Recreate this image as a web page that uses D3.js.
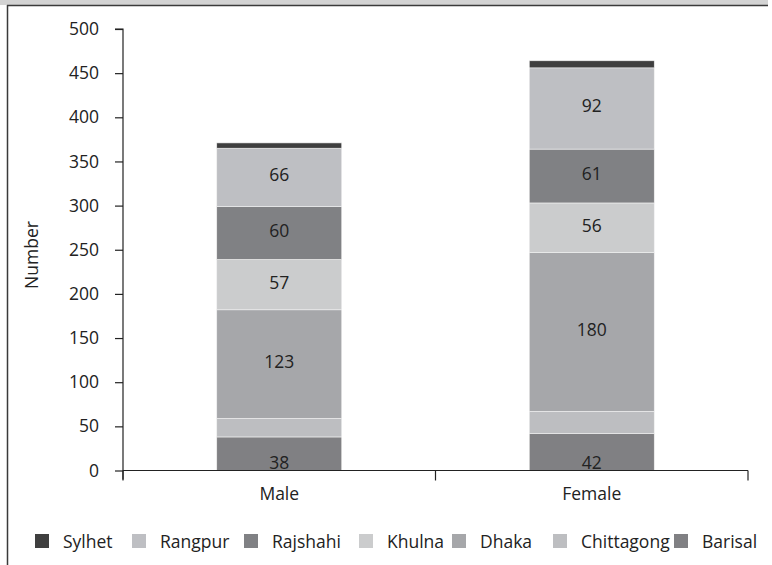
<!DOCTYPE html>
<html>
<head>
<meta charset="utf-8">
<script src="https://cdn.jsdelivr.net/npm/d3@7"></script>
<style>
  html, body { margin: 0; padding: 0; background: #fff; }
  svg { display: block; font-family: "Open Sans", Lato, sans-serif; }
</style>
</head>
<body>
<svg id="chart" width="772" height="565"></svg>
<script>
// Respondents by division and sex
const categories = ["Male", "Female"];
const divisions = ["Barisal", "Chittagong", "Dhaka", "Khulna", "Rajshahi", "Rangpur", "Sylhet"];
const maleValues = [38, 21, 123, 57, 60, 66, 6];
const femaleValues = [42, 25, 180, 56, 61, 92, 8];
const labelledDivisions = ["Barisal", "Dhaka", "Khulna", "Rajshahi", "Rangpur"];
const yTicks = [0, 50, 100, 150, 200, 250, 300, 350, 400, 450, 500];
const legendOrder = ["Sylhet", "Rangpur", "Rajshahi", "Khulna", "Dhaka", "Chittagong", "Barisal"];

const colors = {
  Barisal: "#808083",
  Chittagong: "#bdbec1",
  Dhaka: "#a6a7aa",
  Khulna: "#cbcccd",
  Rajshahi: "#808184",
  Rangpur: "#bebfc3",
  Sylhet: "#3f3f3f"
};

const FONT = 17.5;
const svg = d3.select("#chart");

// frame: grey band on top with a dark rule, and a left edge line
svg.append("rect").attr("x", 0).attr("y", 0).attr("width", 768).attr("height", 5).attr("fill", "#d3d3d3");
svg.append("line").attr("x1", 7).attr("x2", 768).attr("y1", 5.5).attr("y2", 5.5).attr("stroke", "#3a3a3a").attr("stroke-width", 1.5);
svg.append("line").attr("x1", 7.5).attr("x2", 7.5).attr("y1", 5).attr("y2", 565).attr("stroke", "#3a3a3a").attr("stroke-width", 1.5);

const plot = { left: 123, right: 748, top: 29, bottom: 470.5 };

const x = d3.scaleBand().domain(categories).range([plot.left, plot.right]).paddingInner(0).paddingOuter(0);
const y = d3.scaleLinear().domain([0, 500]).range([plot.bottom, plot.top]);

const rows = categories.map((c, i) => {
  const vals = i === 0 ? maleValues : femaleValues;
  const row = { category: c };
  divisions.forEach((d, j) => row[d] = vals[j]);
  return row;
});

const series = d3.stack().keys(divisions)(rows);

const barWidth = x.bandwidth() * 0.4;
const barX = c => x(c) + (x.bandwidth() - barWidth) / 2;

const g = svg.append("g");
series.forEach(s => {
  g.selectAll(null)
    .data(s)
    .enter()
    .append("rect")
    .attr("x", d => barX(d.data.category))
    .attr("y", d => y(d[1]))
    .attr("width", barWidth)
    .attr("height", d => y(d[0]) - y(d[1]))
    .attr("fill", colors[s.key])
    .attr("stroke", "#f2f2f2")
    .attr("stroke-width", 0.6);
});

// value labels inside segments
series.filter(s => labelledDivisions.includes(s.key)).forEach(s => {
  g.selectAll(null)
    .data(s)
    .enter()
    .append("text")
    .attr("x", d => barX(d.data.category) + barWidth / 2)
    .attr("y", d => {
      const mid = (y(d[0]) + y(d[1])) / 2;
      return s.key === "Barisal" ? y(d[0]) - 9 : mid - 3;
    })
    .attr("text-anchor", "middle")
    .attr("dominant-baseline", "central")
    .attr("font-size", FONT)
    .attr("fill", "#222")
    .text(d => d.data[s.key]);
});

// y axis
const yAxis = d3.axisLeft(y).tickValues(yTicks).tickSize(8).tickPadding(16);
const yg = svg.append("g").attr("transform", `translate(${plot.left},0)`).call(yAxis);
yg.select(".domain").attr("stroke", "#222").attr("stroke-width", 1.2).attr("d", `M-8,${plot.top}H0V${plot.bottom + 9}`);
yg.selectAll(".tick line").attr("stroke", "#222").attr("stroke-width", 1.2);
yg.selectAll(".tick text").attr("font-size", FONT).attr("fill", "#222").attr("font-family", "'Open Sans', Lato, sans-serif");

// x axis with boundary ticks between categories
const boundaries = [plot.left, x("Female"), plot.right];
svg.append("line").attr("x1", plot.left).attr("x2", plot.right).attr("y1", plot.bottom).attr("y2", plot.bottom)
  .attr("stroke", "#222").attr("stroke-width", 1.2);
svg.selectAll(null).data(boundaries).enter().append("line")
  .attr("x1", d => d).attr("x2", d => d)
  .attr("y1", plot.bottom).attr("y2", plot.bottom + 10)
  .attr("stroke", "#222").attr("stroke-width", 1.2);
svg.selectAll(null).data(categories).enter().append("text")
  .attr("x", d => x(d) + x.bandwidth() / 2)
  .attr("y", 500)
  .attr("text-anchor", "middle")
  .attr("font-size", FONT)
  .attr("fill", "#222")
  .text(d => d);

// y axis title
svg.append("text")
  .attr("transform", "translate(38,255) rotate(-90)")
  .attr("text-anchor", "middle")
  .attr("font-size", FONT)
  .attr("fill", "#222")
  .text("Number");

// legend
const legendX = [35, 132, 244, 359, 452, 553, 674];
const legend = svg.append("g");
legendOrder.forEach((k, i) => {
  legend.append("rect")
    .attr("x", legendX[i]).attr("y", 534)
    .attr("width", 14).attr("height", 14)
    .attr("fill", colors[k]);
  legend.append("text")
    .attr("x", legendX[i] + 28).attr("y", 548)
    .attr("font-size", FONT)
    .attr("fill", "#222")
    .text(k);
});
</script>
</body>
</html>
